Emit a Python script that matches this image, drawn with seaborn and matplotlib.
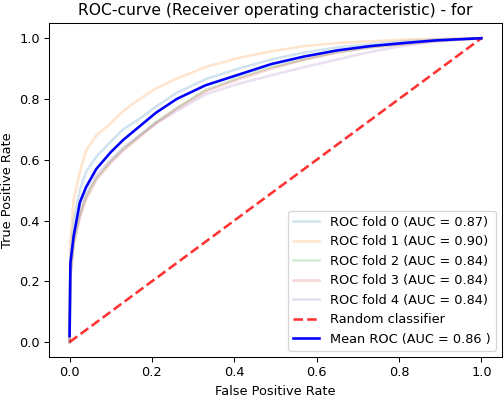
import numpy as np
import pandas as pd
import matplotlib
matplotlib.use('Agg')
import matplotlib.pyplot as plt
import seaborn as sns

# false positive rate grid shared by all curves
fpr = [0.0, 0.002, 0.01, 0.025, 0.04, 0.065, 0.1, 0.13, 0.17, 0.21,
       0.26, 0.33, 0.41, 0.49, 0.57, 0.65, 0.73, 0.81, 0.89, 1.0]

# true positive rate per fold
tpr_fold0 = [0.0, 0.28, 0.40, 0.50, 0.56, 0.61, 0.66, 0.70, 0.735, 0.775,
             0.82, 0.865, 0.90, 0.93, 0.953, 0.97, 0.98, 0.99, 0.996, 1.0]
tpr_fold1 = [0.0, 0.33, 0.47, 0.56, 0.63, 0.68, 0.72, 0.76, 0.80, 0.835,
             0.867, 0.905, 0.935, 0.957, 0.974, 0.984, 0.99, 0.995, 0.998, 1.0]
tpr_fold2 = [0.0, 0.22, 0.33, 0.42, 0.48, 0.54, 0.595, 0.635, 0.68, 0.725,
             0.77, 0.83, 0.87, 0.905, 0.93, 0.955, 0.97, 0.982, 0.992, 1.0]
tpr_fold3 = [0.0, 0.21, 0.32, 0.41, 0.47, 0.535, 0.59, 0.63, 0.675, 0.72,
             0.768, 0.825, 0.865, 0.90, 0.93, 0.953, 0.97, 0.98, 0.99, 1.0]
tpr_fold4 = [0.0, 0.23, 0.34, 0.43, 0.49, 0.55, 0.60, 0.64, 0.68, 0.72,
             0.76, 0.815, 0.85, 0.878, 0.905, 0.93, 0.955, 0.975, 0.99, 1.0]
tpr_mean = [0.02, 0.26, 0.35, 0.46, 0.51, 0.57, 0.625, 0.665, 0.71, 0.755,
            0.80, 0.845, 0.88, 0.915, 0.94, 0.96, 0.974, 0.984, 0.993, 1.0]

fold_aucs = [0.87, 0.90, 0.84, 0.84, 0.84]
mean_auc = 0.86
folds = [tpr_fold0, tpr_fold1, tpr_fold2, tpr_fold3, tpr_fold4]
colors = sns.color_palette('tab10', 5)

# reference looks like a larger figure scaled down
dpi = 93
fig = plt.figure(figsize=(505 / dpi, 397 / dpi), dpi=dpi)
ax = fig.add_axes([0.097, 0.1, 0.897, 0.842])

for i, tpr in enumerate(folds):
    df = pd.DataFrame({'fpr': fpr, 'tpr': tpr})
    sns.lineplot(data=df, x='fpr', y='tpr', ax=ax, color=colors[i], lw=2, alpha=0.2,
                 sort=False, estimator=None,
                 label='ROC fold %d (AUC = %0.2f)' % (i, fold_aucs[i]))

sns.lineplot(x=[0, 1], y=[0, 1], ax=ax, color='r', linestyle='--', lw=2, alpha=0.8,
             label='Random classifier')
sns.lineplot(x=fpr, y=tpr_mean, ax=ax, color='b', lw=2, sort=False, estimator=None,
             label='Mean ROC (AUC = %0.2f )' % mean_auc)

ax.set_xlabel('False Positive Rate')
ax.set_ylabel('True Positive Rate')
ax.set_title('ROC-curve (Receiver operating characteristic) - for')
ax.legend(loc='lower right')

plt.savefig('out.png', dpi=dpi)
